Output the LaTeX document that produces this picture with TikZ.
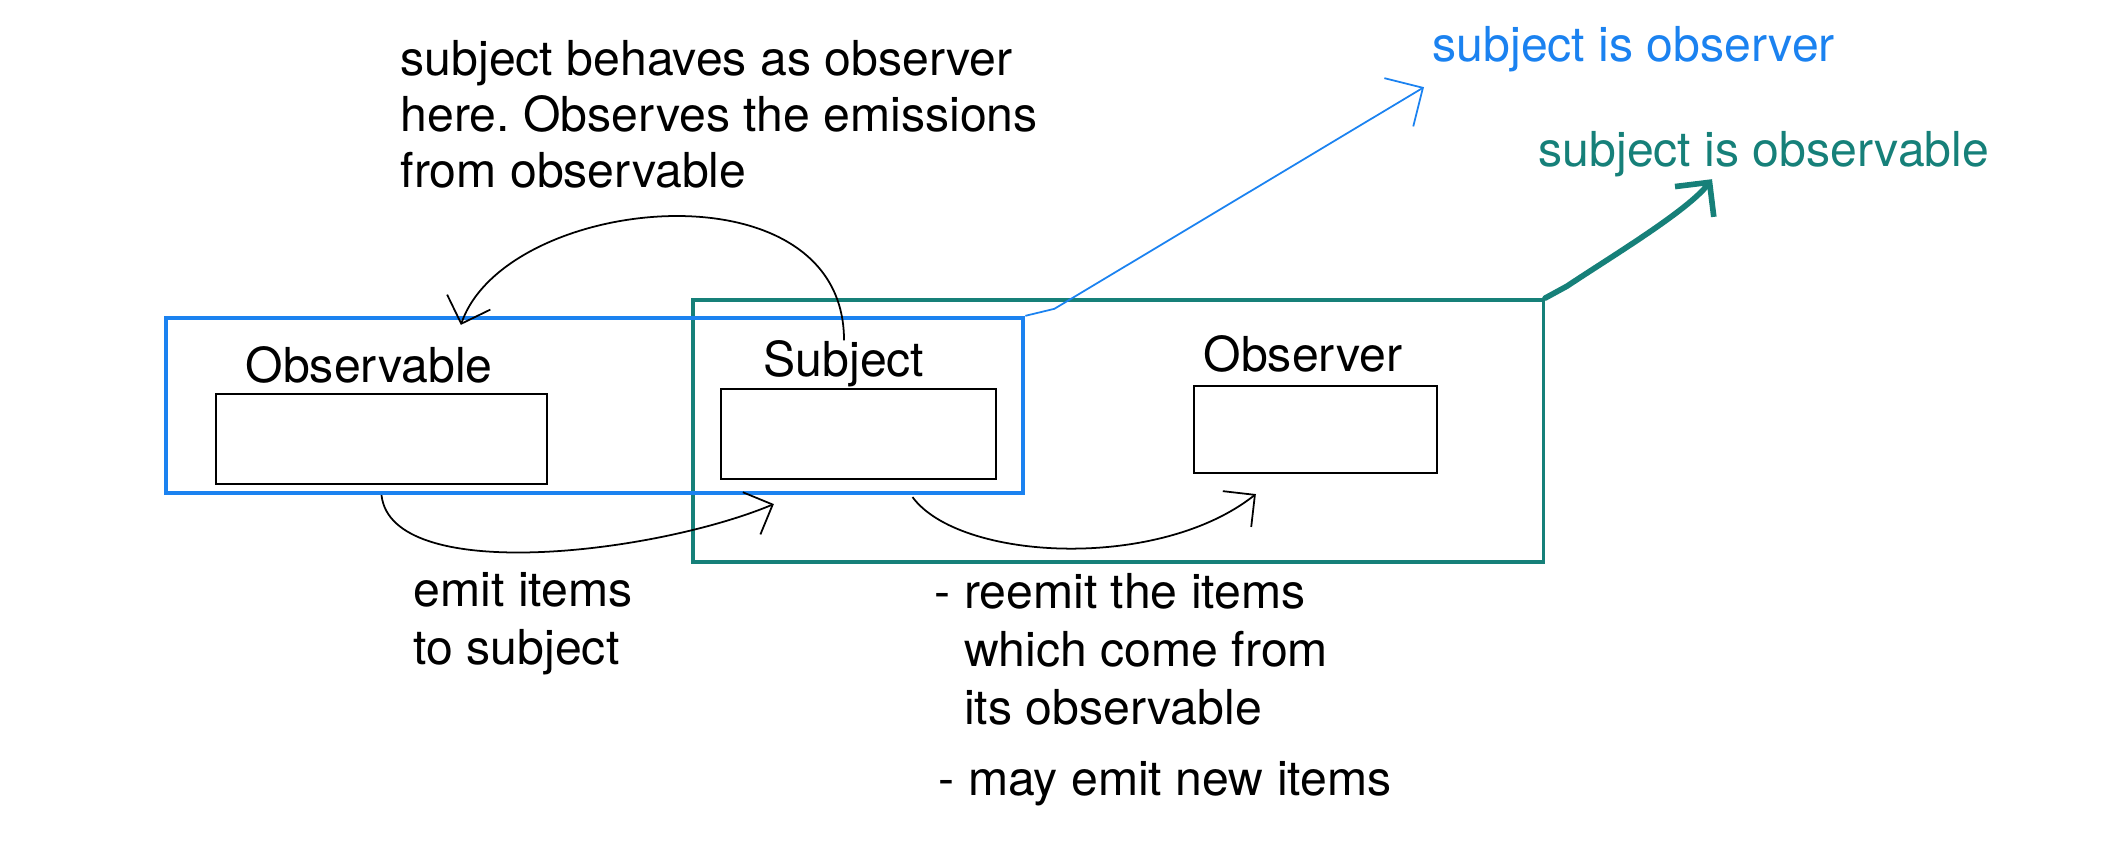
\documentclass[tikz,border=0pt]{standalone}
\usepackage{fontspec}
\setmainfont{TeX Gyre Heros}
\usepackage{tikz}
\usetikzlibrary{
  arrows.meta,%
  calc,%
  positioning
}
\frenchspacing
\definecolor{rxblue}{RGB}{27,130,240}
\definecolor{rxteal}{RGB}{22,128,121}
\tikzset{>={Straight Barb[length=6.5pt,width=13pt]}}
\tikzset{font=\fontsize{13.7}{16.4}\selectfont}
\tikzset{objbox/.style={draw=black, line width=0.6pt, inner sep=0pt}}
\tikzset{lbl/.style={inner sep=0pt, anchor=base west}}
\tikzset{flow/.style={->, line width=0.5pt}}

\begin{document}
\begin{tikzpicture}[x=0.01cm, y=-0.01cm]
  \useasboundingbox (0,0) rectangle (2102,868);
  % the two groups
  \node[draw=rxteal, line width=1pt, inner sep=0pt, minimum width=8.5cm,
    minimum height=2.62cm] (tealgrp) at (1118,431) {};
  \node[draw=rxblue, line width=1.2pt, inner sep=0pt, minimum width=8.57cm,
    minimum height=1.75cm] (bluegrp) at (594.5,405.5) {};
  % boxes and their names
  \node[objbox, minimum width=3.31cm, minimum height=0.9cm] (obsbox) at (381.5,439) {};
  \node[objbox, minimum width=2.75cm, minimum height=0.9cm] (subjbox) at (858.5,434) {};
  \node[objbox, minimum width=2.43cm, minimum height=0.87cm] (obvrbox) at (1315.5,429.5) {};
  \node[lbl] (obslbl) at (245,383) {Observable};
  \node[lbl] (subjlbl) at (763,377) {Subject};
  \node[lbl] (obvrlbl) at (1203,372) {Observer};
  % notes
  \node[lbl] (behaves) at (400,76) {\renewcommand{\arraystretch}{0.97}%
    \begin{tabular}[t]{@{}l@{}}subject behaves as observer\\
      here. Observes the emissions\\from observable\end{tabular}};
  \node[lbl] (emitlbl) at (413,607) {\begin{tabular}[t]{@{}l@{}}emit items\\to subject\end{tabular}};
  \node[lbl] (reemitlbl) at (934,609) {\begin{tabular}[t]{@{}l@{\ }l@{}}-&reemit the items\\
      &which come from\\&its observable\end{tabular}};
  \node[lbl] (newlbl) at (938,796) {- may emit new items};
  \node[lbl, text=rxblue] (isobvr) at (1432,62) {subject is observer};
  \node[lbl, text=rxteal] (isobsl) at (1538,167) {subject is observable};
  % arrow ends
  \coordinate (obsin) at ($(obsbox.north west)+(246,-68)$);
  \coordinate (subjin) at ($(subjbox.south west)+(54,24)$);
  \coordinate (subjout) at ($(subjbox.south)+(54,17)$);
  \coordinate (obvrin) at ($(obvrbox.south west)+(63,20)$);
  \coordinate (bluetip) at ($(isobvr.south west)+(-8,14)$);
  \coordinate (tealtip) at ($(isobsl.south west)+(174,1)$);
  % connectors
  \draw[flow] (subjlbl.north) .. controls +(0,-180) and +(45,-130) .. (obsin);
  \draw[flow] (obsbox.south |- bluegrp.south) .. controls +(10,90) and +(-120,50) .. (subjin);
  \draw[flow] (subjout) .. controls +(47,64) and +(-97,77) .. (obvrin);
  \draw[rxblue, line width=0.5pt, ->, >={Straight Barb[length=8pt,width=16pt]}]
    (bluegrp.north east) -- ++(29,-7) -- (bluetip);
  \draw[rxteal, line width=1.6pt, line cap=round, ->, >={Straight Barb[length=7pt,width=14pt]}]
    (tealgrp.north east) -- ++(22,-12) .. controls +(45,-30) and +(-25,32) .. (tealtip);
\end{tikzpicture}
\end{document}
